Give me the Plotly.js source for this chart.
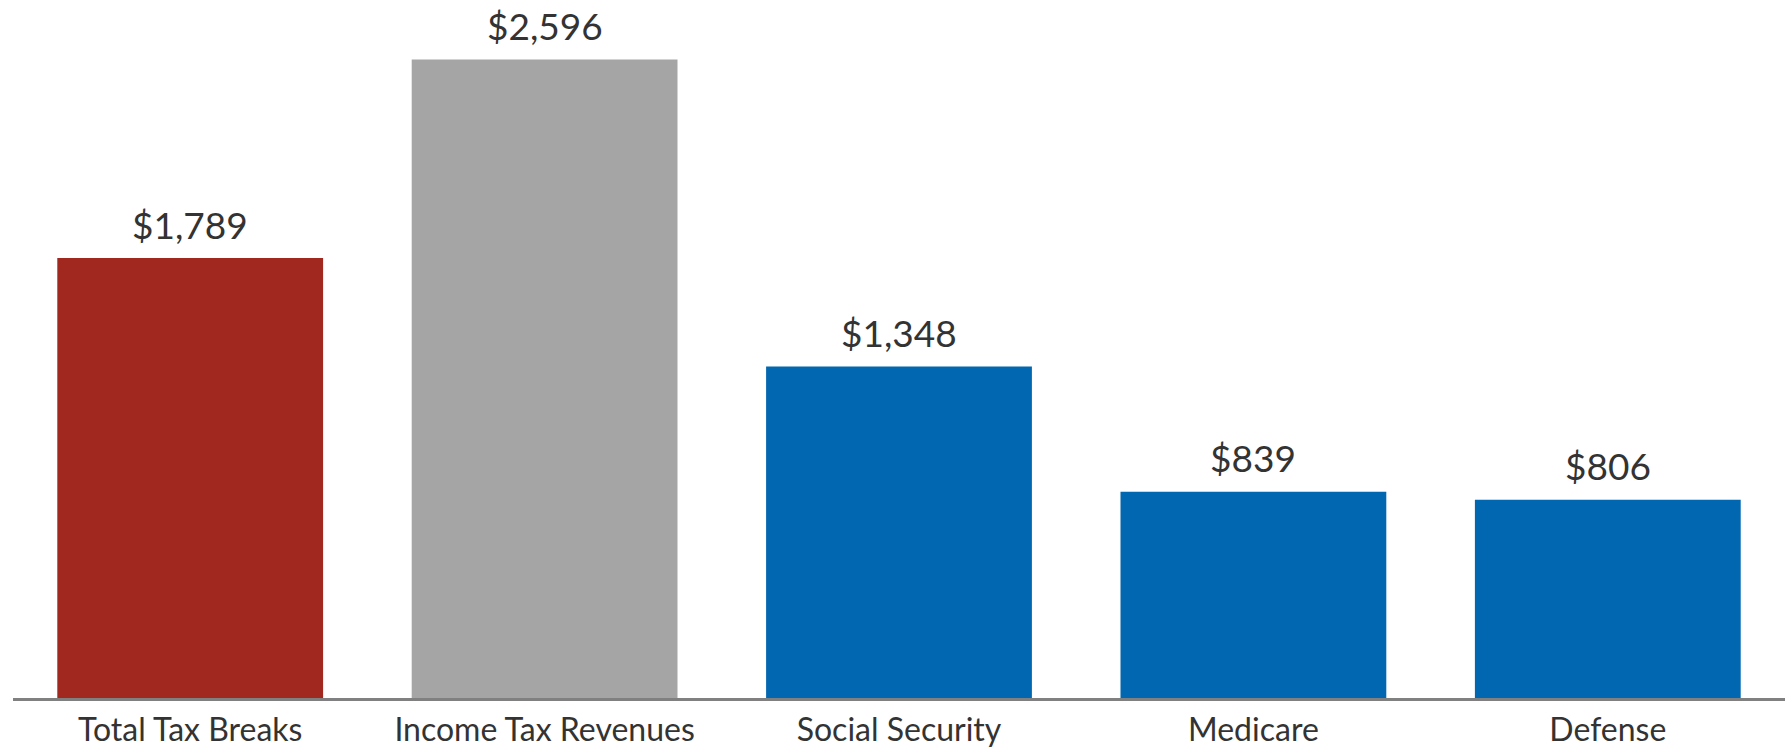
<!DOCTYPE html>
<html>
<head>
<meta charset="utf-8">
<script src="https://cdn.plot.ly/plotly-3.0.1.min.js"></script>
<style>html,body{margin:0;padding:0;background:#fff;}#chart{width:1787px;height:749px;}</style>
</head>
<body>
<div id="chart"></div>
<script>
const categories = ["Total Tax Breaks", "Income Tax Revenues", "Social Security", "Medicare", "Defense"];
const values = [1789, 2596, 1348, 839, 806];
const labels = ["$1,789", "$2,596", "$1,348", "$839", "$806"];
const colors = ["#A0281F", "#A5A5A5", "#0067B0", "#0067B0", "#0067B0"];

const trace = {
  type: "bar",
  x: categories,
  y: values,
  marker: {color: colors, line: {width: 0}},
  hoverinfo: "none"
};

const annotations = categories.map((c, i) => ({
  x: c, y: values[i], xref: "x", yref: "y",
  text: labels[i], showarrow: false,
  yanchor: "middle", yshift: 34,
  font: {family: "Lato, sans-serif", size: 37, color: "#333333"}
}));

const layout = {
  width: 1787, height: 749,
  margin: {l: 13, r: 2, t: 0, b: 51, pad: 0},
  paper_bgcolor: "#ffffff", plot_bgcolor: "#ffffff",
  bargap: 0.25,
  showlegend: false,
  xaxis: {
    type: "category",
    showline: true, linecolor: "#808080", linewidth: 3,
    ticks: "", showgrid: false, zeroline: false,
    ticklabelstandoff: 2,
    tickfont: {family: "Lato, sans-serif", size: 32, color: "#333333"},
    automargin: false
  },
  yaxis: {
    range: [0, 2838], visible: false, showgrid: false, zeroline: false
  },
  annotations: annotations
};

Plotly.newPlot("chart", [trace], layout, {displayModeBar: false, staticPlot: true});
</script>
</body>
</html>
